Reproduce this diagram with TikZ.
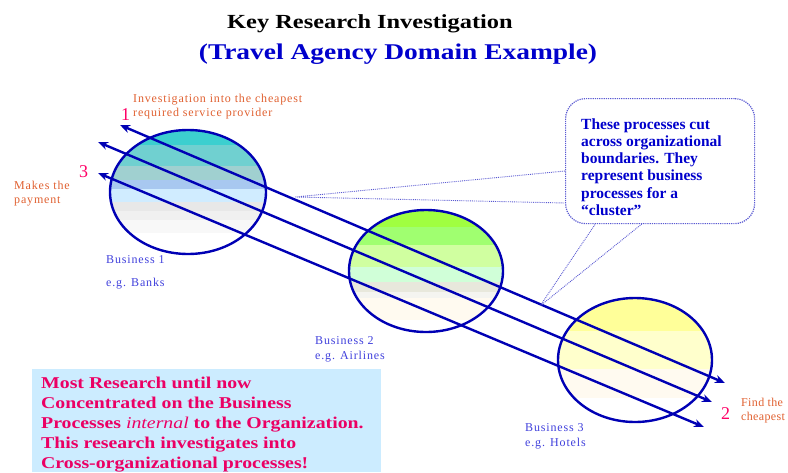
\documentclass[tikz,border=0pt]{standalone}
\usepackage{fontspec}
\setmainfont{Liberation Serif}
\newfontfamily\spacedfont[LetterSpace=7]{Liberation Serif}
\newfontfamily\tightfont[LetterSpace=3]{Liberation Serif}
\newfontfamily\widefont[FakeStretch=1.22]{Liberation Serif}
\newfontfamily\subfont[FakeStretch=1.22]{Liberation Serif}
\newfontfamily\boxfont[FakeStretch=1.2]{Liberation Serif}
\usetikzlibrary{shapes.geometric,arrows.meta}
\definecolor{lineblue}{RGB}{0,0,180}
\definecolor{noteorange}{RGB}{224,96,48}
\definecolor{labelblue}{RGB}{64,64,220}
\definecolor{numpink}{RGB}{255,0,102}
\definecolor{calltext}{RGB}{0,0,204}
\definecolor{dotblue}{RGB}{90,90,210}
\definecolor{boxblue}{RGB}{204,236,255}
\definecolor{boxtext}{RGB}{235,0,100}
\definecolor{subblue}{RGB}{0,0,204}
% circle 1 bands
\definecolor{ta}{RGB}{60,207,207}
\definecolor{tb}{RGB}{112,208,208}
\definecolor{tc}{RGB}{160,208,208}
\definecolor{td}{RGB}{168,200,240}
\definecolor{te}{RGB}{208,236,255}
\definecolor{tf}{RGB}{232,232,232}
\definecolor{tg}{RGB}{240,240,240}
\definecolor{th}{RGB}{248,248,248}
% circle 2 bands
\definecolor{ga}{RGB}{160,255,64}
\definecolor{gb}{RGB}{160,255,112}
\definecolor{gc}{RGB}{208,255,160}
\definecolor{gd}{RGB}{208,255,216}
\definecolor{ge}{RGB}{232,232,220}
\definecolor{gf}{RGB}{244,244,240}
\definecolor{gg}{RGB}{255,250,240}
% circle 3 bands
\definecolor{ya}{RGB}{255,255,153}
\definecolor{yb}{RGB}{255,255,204}
\definecolor{yc}{RGB}{255,250,240}
\begin{document}
\begin{tikzpicture}[x=1pt,y=-1pt,
  bizcircle/.style={ellipse, draw=lineblue, line width=2.4pt, minimum width=156, minimum height=124, inner sep=0},
  flow/.style={draw=lineblue, line width=2.4pt, {Stealth[length=10pt,width=8pt]}-{Stealth[length=10pt,width=8pt]}},
  note/.style={text=noteorange, font=\spacedfont\fontsize{12}{14}\selectfont, align=left, inner sep=0, anchor=base west},
  bizlabel/.style={text=labelblue, font=\spacedfont\fontsize{12}{15}\selectfont, align=left, inner sep=0, anchor=base west},
  num/.style={text=numpink, font=\fontsize{18}{18}\selectfont, inner sep=0, anchor=base west},
  calloutbox/.style={draw=dotblue, densely dotted, line width=1.2pt, rounded corners=20pt, fill=white, minimum width=189, minimum height=125, anchor=north west},
  pointer/.style={draw=dotblue, densely dotted, line width=0.9pt}]
\useasboundingbox (0,0) rectangle (788,472);

% title
\node[font=\widefont\bfseries\fontsize{20}{24}\selectfont, inner sep=0, anchor=base] (t1) at (370,28) {Key Research Investigation};
\node[font=\subfont\bfseries\fontsize{22.5}{26}\selectfont, text=subblue, inner sep=0, anchor=base] (t2) at (398,59) {(Travel Agency Domain Example)};

% circle stripes
\begin{scope}
\clip (188,192) ellipse [x radius=78, y radius=62];
\fill[ta] (100,120) rectangle (280,145);
\fill[tb] (100,145) rectangle (280,166);
\fill[tc] (100,166) rectangle (280,180);
\fill[td] (100,180) rectangle (280,189);
\fill[te] (100,189) rectangle (280,202);
\fill[tf] (100,202) rectangle (280,211);
\fill[tg] (100,211) rectangle (280,220);
\fill[th] (100,220) rectangle (280,233);
\end{scope}
\begin{scope}
\clip (426,271) ellipse [x radius=77, y radius=61];
\fill[ga] (340,200) rectangle (510,227);
\fill[gb] (340,227) rectangle (510,245);
\fill[gc] (340,245) rectangle (510,267);
\fill[gd] (340,267) rectangle (510,282);
\fill[ge] (340,282) rectangle (510,292);
\fill[gf] (340,292) rectangle (510,298);
\fill[gg] (340,298) rectangle (510,320);
\end{scope}
\begin{scope}
\clip (635,360) ellipse [x radius=77, y radius=62];
\fill[ya] (550,290) rectangle (720,331);
\fill[yb] (550,331) rectangle (720,369);
\fill[yc] (550,369) rectangle (720,398);
\end{scope}

% circles
\node[bizcircle] (b1) at (188,192) {};
\node[bizcircle, minimum width=154, minimum height=122] (b2) at (426,271) {};
\node[bizcircle, minimum width=154] (b3) at (635,360) {};

% process arrows
\coordinate (a1s) at (120,125);
\coordinate (a1e) at (725,383);
\coordinate (a2s) at (98,142);
\coordinate (a2e) at (712,402);
\coordinate (a3s) at (98,173);
\coordinate (a3e) at (704,427);
\draw[flow] (a1s) -- (a1e);
\draw[flow] (a2s) -- (a2e);
\draw[flow] (a3s) -- (a3e);

% callout
\coordinate (p1) at (295,197);
\coordinate (p2) at (540,306);
\coordinate (w1) at (565,171);
\coordinate (w2) at (565,203);
\coordinate (w3) at (596,223);
\coordinate (w4) at (643,223);
\draw[pointer] (w1) -- (p1) -- (w2);
\draw[pointer] (w3) -- (p2) -- (w4);
\node[calloutbox] (cb) at (565,98) {};
\node[text=calltext, font=\bfseries\fontsize{15.5}{17.3}\selectfont, align=left, inner sep=0, anchor=base west] (ct) at (581,215.5)
  {These processes cut\\across organizational\\boundaries. They\\represent business\\processes for a\\``cluster''};

% numbers
\node[num] (n1) at (121,120) {1};
\node[num] (n3) at (79,177) {3};
\node[num] (n2) at (721,419) {2};

% orange notes
\node[note] (o1) at (133,116) {Investigation into the cheapest\\required service provider};
\node[note] (o3) at (14,203) {Makes the\\payment};
\node[note, font=\tightfont\fontsize{12}{14}\selectfont] (o2) at (741,420) {Find the\\cheapest};

% business labels
\node[bizlabel, font=\spacedfont\fontsize{12}{23}\selectfont] (l1) at (106,286) {Business 1\\e.g. Banks};
\node[bizlabel] (l2) at (315,359) {Business 2\\e.g. Airlines};
\node[bizlabel] (l3) at (525,446) {Business 3\\e.g. Hotels};

% research box
\node[fill=boxblue, minimum width=349, minimum height=103, inner sep=0, anchor=north west] (rb) at (32,369) {};
\node[text=boxtext, font=\boxfont\bfseries\fontsize{16.5}{20}\selectfont, align=left, inner sep=0, anchor=base west] (rt) at (41,468)
  {Most Research until now\\Concentrated on the Business\\Processes {\mdseries\itshape internal} to the Organization.\\This research investigates into\\Cross-organizational processes!};
\end{tikzpicture}
\end{document}
